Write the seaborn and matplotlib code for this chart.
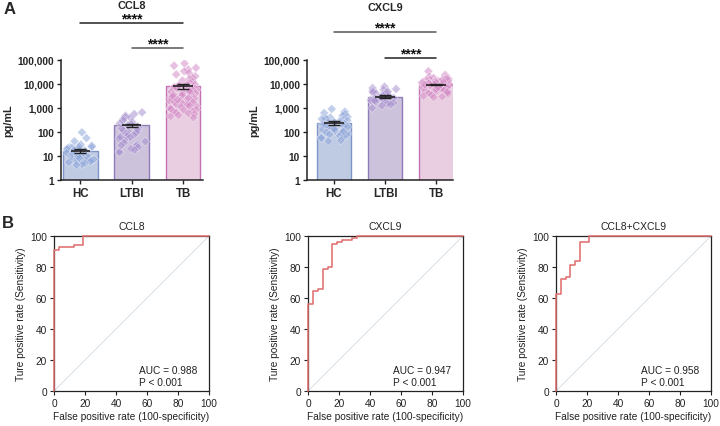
import numpy as np
import pandas as pd
import matplotlib
matplotlib.use("Agg")
import matplotlib.pyplot as plt
import matplotlib.transforms as mtransforms
import seaborn as sns

np.random.seed(3)  # reproducible strip jitter only

# ---------------- data ----------------
groups = ["HC", "LTBI", "TB"]

ccl8_hc = [97, 56, 41, 30, 27, 24, 23, 22, 21, 20, 19, 18, 17, 16, 15, 14, 13.5, 13, 12, 11.5,
           11, 10.5, 10, 9.5, 9, 8.8, 8.5, 8, 7.6, 7.2, 7, 6.7, 6.4, 6, 5.8, 5.5, 5, 4.6, 4.2,
           12.5, 9.8, 8.2, 15.5, 18.5, 25]
ccl8_ltbi = [660, 560, 480, 430, 390, 350, 300, 260, 230, 210, 190, 170, 150, 135, 120, 105, 95,
             85, 75, 68, 60, 52, 46, 40, 35, 30, 26, 23, 20, 18, 16, 14, 110, 140, 62, 28]
ccl8_tb = [72000, 58000, 47000, 40000, 34000, 29000, 25000, 21000, 18000, 16000, 14000, 12500,
           11000, 10000, 9500, 9000, 8500, 8000, 7500, 7000, 6600, 6200, 5800, 5400, 5000, 4700,
           4400, 4100, 3800, 3500, 3300, 3100, 2900, 2700, 2500, 2300, 2100, 2000, 1900, 1800,
           1700, 1600, 1500, 1400, 1300, 1200, 1100, 1000, 950, 900, 850, 800, 750, 700, 650,
           600, 550, 500, 450, 400, 6800, 4600, 3600, 2600, 1750, 1250, 8800, 5200, 3000, 2200]

cxcl9_hc = [910, 700, 620, 560, 480, 430, 400, 370, 340, 320, 300, 280, 260, 245, 230, 215, 200,
            190, 180, 170, 160, 150, 140, 130, 125, 120, 110, 100, 95, 90, 85, 80, 75, 70, 65,
            60, 55, 45, 41, 250, 210, 165, 135, 105, 350]
cxcl9_ltbi = [7700, 6800, 6200, 5800, 5400, 5000, 4600, 4300, 4000, 3800, 3600, 3400, 3200, 3000,
              2900, 2800, 2700, 2600, 2500, 2400, 2300, 2200, 2100, 2000, 1900, 1800, 1700, 1600,
              1500, 1400, 1250, 1000, 3300, 2750, 4800, 2050]
cxcl9_tb = [34000, 24000, 20000, 18000, 16500, 15500, 14500, 13500, 13000, 12500, 12000, 11500,
            11000, 10500, 10000, 9800, 9500, 9200, 9000, 8800, 8500, 8200, 8000, 7800, 7500, 7200,
            7000, 6800, 6500, 6200, 6000, 5800, 5500, 5200, 5000, 4800, 4500, 4200, 4000, 3800,
            3500, 3200, 3000, 2800, 15000, 12800, 11200, 9600, 8600, 7600, 6600, 5600, 4600,
            10800, 14000, 17000, 6300, 7300, 9300, 11800]

ccl8_mean = [16, 190, 8000]
ccl8_sem = [3, 36, 1800]
cxcl9_mean = [245, 2950, 9400]
cxcl9_sem = [45, 400, 700]

yticks_vals = [1, 10, 100, 1000, 10000, 100000]
yticks_labels = ["1", "10", "100", "1,000", "10,000", "100,000"]

roc_titles = ["CCL8", "CXCL9", "CCL8+CXCL9"]
roc_fpr = [
    [0, 0, 3, 3, 13, 13, 19, 19, 100],
    [0, 0, 3.2, 3.2, 6.3, 6.3, 9.7, 9.7, 12.7, 12.7, 15.7, 15.7, 18.7, 18.7, 22, 22, 28.4, 28.4,
     31.7, 31.7, 100],
    [0, 0, 3, 3, 6.3, 6.3, 9.3, 9.3, 12.3, 12.3, 15.6, 15.6, 21.6, 21.6, 100],
]
roc_tpr = [
    [0, 91, 91, 93, 93, 94, 94, 100, 100],
    [0, 56.3, 56.3, 64.5, 64.5, 66, 66, 78.9, 78.9, 80.2, 80.2, 94.6, 94.6, 96.1, 96.1, 97.4,
     97.4, 98.9, 98.9, 100, 100],
    [0, 62.8, 62.8, 72.5, 72.5, 73.5, 73.5, 81.5, 81.5, 83.9, 83.9, 96.1, 96.1, 100, 100],
]
roc_auc = ["0.988", "0.947", "0.958"]

# ---------------- style ----------------
sns.set_theme(style="ticks")
plt.rcParams["font.family"] = ["Liberation Sans", "DejaVu Sans"]
plt.rcParams["axes.unicode_minus"] = False

bar_fill = ["#b9c7e9", "#cbbde1", "#edc9e3"]
bar_edge = ["#7d95c9", "#8f7bb9", "#c471b3"]
pt_color = ["#8ea6da", "#a890cf", "#d58cc7"]

fig = plt.figure(figsize=(7.2, 4.27), dpi=100)


def bar_panel(ax, vals, means, sems, title, title_y, xlim, sig):
    df_pts = pd.DataFrame({
        "group": np.repeat(groups, [len(v) for v in vals]),
        "value": np.concatenate([np.asarray(v, float) for v in vals]),
    })
    df_bar = pd.DataFrame({"group": groups, "mean": means})
    sns.barplot(data=df_bar, x="group", y="mean", hue="group", order=groups, hue_order=groups,
                palette=bar_fill, width=0.68, linewidth=1.0, legend=False, errorbar=None,
                log_scale=True, ax=ax)
    for p, ec in zip(ax.patches, bar_edge):
        p.set_edgecolor(ec)
        p.set_linewidth(1.0)
    sns.stripplot(data=df_pts, x="group", y="value", hue="group", order=groups, hue_order=groups,
                  palette=pt_color, marker="D", size=4.6, alpha=0.55, jitter=0.28,
                  linewidth=0.4, edgecolor="white", legend=False, log_scale=True, ax=ax, zorder=3)
    xs = np.arange(len(groups))
    ax.errorbar(xs, means, yerr=sems, fmt="none", ecolor="#222222", elinewidth=1.0,
                capsize=4.5, capthick=1.0, zorder=5)
    ax.hlines(means, xs - 0.19, xs + 0.19, color="#222222", lw=1.2, zorder=5)
    ax.set_yscale("log")
    ax.set_ylim(1, 1e5)
    ax.set_xlim(*xlim)
    ax.set_yticks(yticks_vals)
    ax.set_yticklabels(yticks_labels, fontsize=7.3, fontweight="bold")
    ax.yaxis.set_minor_locator(matplotlib.ticker.NullLocator())
    ax.set_xticks(xs)
    ax.set_xticklabels(groups, fontsize=8.3, fontweight="bold")
    ax.set_xlabel("")
    ax.set_ylabel("pg/mL", fontsize=7.8, fontweight="bold", labelpad=3)
    ax.tick_params(axis="both", direction="out", length=3, width=1.0, color="#222222", pad=2)
    for s in ["left", "bottom"]:
        ax.spines[s].set_linewidth(1.1)
        ax.spines[s].set_color("#222222")
    sns.despine(ax=ax)
    tr = mtransforms.blended_transform_factory(ax.transData, ax.transAxes)
    for (a, b, ly, sy, col) in sig:
        ax.plot([a, b], [ly, ly], color=col, lw=1.1, transform=tr, clip_on=False)
        ax.text((a + b) / 2, sy, "****", transform=tr, ha="center", va="center",
                fontsize=10, fontweight="bold", color="#111111")
    ax.text(1, title_y, title, transform=tr, ha="center", va="center",
            fontsize=7.8, fontweight="bold")


axA1 = fig.add_axes([61 / 720, (427 - 181) / 427, 142 / 720, 120 / 427])
bar_panel(axA1, [ccl8_hc, ccl8_ltbi, ccl8_tb], ccl8_mean, ccl8_sem, "CCL8", 1.462,
          (-0.38, 2.39),
          [(0, 2, 1.308, 1.345, "#222222"), (1, 2, 1.10, 1.135, "#555555")])

axA2 = fig.add_axes([307 / 720, (427 - 181) / 427, 146 / 720, 120 / 427])
bar_panel(axA2, [cxcl9_hc, cxcl9_ltbi, cxcl9_tb], cxcl9_mean, cxcl9_sem, "CXCL9", 1.44,
          (-0.53, 2.33),
          [(0, 2, 1.233, 1.27, "#555555"), (1, 2, 1.017, 1.052, "#222222")])

# ---------------- ROC panels ----------------
roc_left = [54, 308, 556]
for i in range(3):
    ax = fig.add_axes([roc_left[i] / 720, (427 - 392) / 427, 155 / 720, 155 / 427])
    sns.lineplot(x=[0, 100], y=[0, 100], color="#d0dae6", lw=0.6, ax=ax)
    sns.lineplot(x=roc_fpr[i], y=roc_tpr[i], sort=False, estimator=None, color="#e07070",
                 lw=1.15, ax=ax, zorder=4)
    for ln in ax.lines:
        ln.set_clip_on(False)
    ax.set_xlim(0, 100)
    ax.set_ylim(0, 100)
    ax.set_xticks(range(0, 101, 20))
    ax.set_yticks(range(0, 101, 20))
    ax.tick_params(axis="both", direction="out", length=3, width=0.8, labelsize=7.3,
                   color="#222222", labelcolor="#222222", pad=2)
    for s in ax.spines.values():
        s.set_linewidth(0.9)
        s.set_color("#222222")
    ax.set_xlabel("False positive rate (100-specificity)", fontsize=7.3, color="#222222",
                  labelpad=2)
    ax.set_ylabel("Ture positive rate (Sensitivity)", fontsize=7.3, color="#222222", labelpad=3)
    ax.set_title(roc_titles[i], fontsize=7.5, color="#222222", pad=5)
    ax.text(55, 13.3, f"AUC = {roc_auc[i]}", fontsize=7.3, color="#222222", va="center")
    ax.text(55, 5.8, "P < 0.001", fontsize=7.3, color="#222222", va="center")

fig.text(4 / 720, 1 - 10 / 427, "A", fontsize=12, fontweight="bold", va="center", ha="left")
fig.text(2 / 720, 1 - 224 / 427, "B", fontsize=12, fontweight="bold", va="center", ha="left")

fig.savefig("out.png", dpi=100)
